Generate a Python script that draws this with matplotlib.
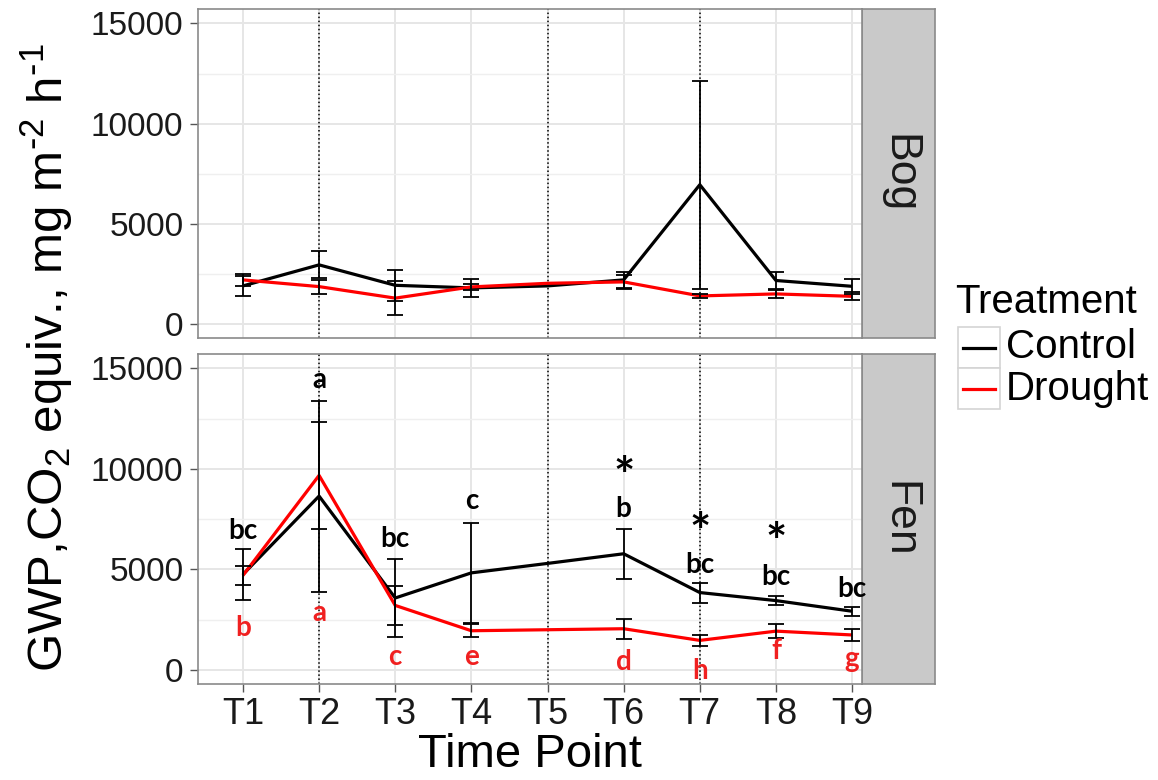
import numpy as np
import matplotlib
matplotlib.use("Agg")
import matplotlib.pyplot as plt
from matplotlib.lines import Line2D
from matplotlib.patches import Rectangle
from matplotlib.ticker import MultipleLocator

plt.rcParams['font.family'] = ['Liberation Sans', 'DejaVu Sans']
plt.rcParams['mathtext.default'] = 'regular'

# ---- data -------------------------------------------------------------
time_points = ['T1', 'T2', 'T3', 'T4', 'T5', 'T6', 'T7', 'T8', 'T9']
nan = np.nan

bog_control = [1900, 2950, 1930, 1800, 1900, 2200, 6950, 2170, 1880]
bog_control_se = [500, 680, 780, 450, nan, 380, 5180, 430, 360]
bog_drought = [2200, 1865, 1290, 1850, 2030, 2100, 1400, 1500, 1380]
bog_drought_se = [300, 350, 840, 150, nan, 350, 100, 200, 200]

fen_control = [4750, 8650, 3580, 4830, 5300, 5780, 3850, 3450, 2920]
fen_control_se = [1250, 4750, 1925, 2470, nan, 1250, 500, 235, 235]
fen_drought = [4700, 9680, 3210, 1950, 2000, 2050, 1470, 1930, 1740]
fen_drought_se = [450, 2670, 950, 320, nan, 500, 290, 335, 290]

# significance letters (Fen): text and baseline height in y units
control_letters = ['bc', 'a', 'bc', 'c', '', 'b', 'bc', 'bc', 'bc']
control_letter_y = [6520, 14020, 6100, 8000, nan, 7630, 4830, 4220, 3630]
drought_letters = ['b', 'a', 'c', 'e', '', 'd', 'h', 'f', 'g']
drought_letter_y = [1670, 2430, 250, 250, nan, 0, -450, 530, 170]
star_points = ['T6', 'T7', 'T8']
star_y = [9550, 6730, 6220]

sampling_marks = ['T2', 'T5', 'T7']

# ---- layout -----------------------------------------------------------
W, H = 1158, 780
fig = plt.figure(figsize=(W / 100, H / 100), dpi=100)
fig.patch.set_facecolor('white')


def px_axes(x0, y0, x1, y1):
    return fig.add_axes([x0 / W, 1 - y1 / H, (x1 - x0) / W, (y1 - y0) / H])


strip_bog = px_axes(862, 9, 935, 338)
strip_fen = px_axes(862, 354, 935, 684)
ax_bog = px_axes(198, 9, 862, 338)
ax_fen = px_axes(198, 354, 862, 684)
for a in (strip_bog, strip_fen):
    a.set_zorder(1)
for a in (ax_bog, ax_fen):
    a.set_zorder(2)

x = np.arange(1, len(time_points) + 1)
pos = {t: i + 1 for i, t in enumerate(time_points)}

panels = [
    (ax_bog, bog_control, bog_control_se, bog_drought, bog_drought_se),
    (ax_fen, fen_control, fen_control_se, fen_drought, fen_drought_se),
]

for ax, c, c_se, d, d_se in panels:
    ax.set_xlim(0.41, 9.13)
    ax.set_ylim(-700, 15720)
    ax.set_yticks([0, 5000, 10000, 15000])
    ax.yaxis.set_minor_locator(MultipleLocator(2500))
    ax.set_xticks(x)
    ax.set_xticklabels(time_points)
    ax.grid(which='major', color='#e6e6e6', lw=1.4)
    ax.grid(which='minor', axis='y', color='#efefef', lw=1.0)
    ax.set_axisbelow(True)
    ax.tick_params(which='minor', length=0)
    ax.tick_params(which='major', length=5.5, width=1.0, color='#555555',
                   labelcolor='#1a1a1a')
    ax.tick_params(axis='y', labelsize=24, pad=5)
    ax.tick_params(axis='x', labelsize=26, pad=4)
    for sp in ax.spines.values():
        sp.set_color('#8a8a8a')
        sp.set_linewidth(1.2)
    for t in sampling_marks:
        ax.axvline(pos[t], color='black', ls=':', lw=1.1, zorder=1.5)

    ax.plot(x, c, color='black', lw=2.3, zorder=3, solid_capstyle='butt')
    ax.plot(x, d, color='red', lw=2.3, zorder=3, solid_capstyle='butt')
    ax.errorbar(x, c, yerr=c_se, fmt='none', ecolor='black', elinewidth=1.3,
                capsize=6, capthick=1.3, zorder=4)
    ax.errorbar(x, d, yerr=d_se, fmt='none', ecolor='black', elinewidth=1.3,
                capsize=6, capthick=1.3, zorder=4)

ax_bog.tick_params(axis='x', length=0, labelbottom=False)

# letters and asterisks on the Fen panel
for xi, lab, yv in zip(x, control_letters, control_letter_y):
    if lab:
        ax_fen.text(xi, yv, lab, ha='center', va='baseline', fontsize=20,
                    fontweight='bold', family='Lato', color='black',
                    zorder=5, clip_on=False)
for xi, lab, yv in zip(x, drought_letters, drought_letter_y):
    if lab:
        ax_fen.text(xi, yv, lab, ha='center', va='baseline', fontsize=20,
                    fontweight='bold', family='Lato', color='#f02020',
                    zorder=5, clip_on=False)
for t, yv in zip(star_points, star_y):
    ax_fen.text(pos[t], yv, '*', ha='center', va='center', fontsize=36,
                fontweight='bold', family='Lato', color='black', zorder=5)

# facet strips
for sax, name in ((strip_bog, 'Bog'), (strip_fen, 'Fen')):
    sax.set_facecolor('#c9c9c9')
    sax.set_xticks([])
    sax.set_yticks([])
    for sp in sax.spines.values():
        sp.set_color('#8a8a8a')
        sp.set_linewidth(1.2)
    sax.text(0.5, 0.5, name, rotation=-90, ha='center', va='center',
             fontsize=32, color='#1a1a1a', transform=sax.transAxes)

# axis titles
fig.text(47 / W, 1 - 358 / H,
         r'GWP,CO$_2$ equiv., mg m$^{\text{-}2}$ h$^{\text{-}1}$',
         rotation=90, ha='center', va='center', fontsize=35.5, color='black')
fig.text(530 / W, 1 - 755 / H, 'Time Point', ha='center', va='center',
         fontsize=34, color='black')

# legend
fig.text(955 / W, 1 - 302 / H, 'Treatment', ha='left', va='center',
         fontsize=29, color='black')
for i, (lab, col) in enumerate((('Control', 'black'), ('Drought', 'red'))):
    top = 327 + i * 41
    fig.add_artist(Rectangle((958 / W, 1 - (top + 41) / H), 42 / W, 41 / H,
                             transform=fig.transFigure, facecolor='white',
                             edgecolor='#d4d4d4', lw=1.2))
    yc = 1 - (top + 20.5) / H
    fig.add_artist(Line2D([963 / W, 995 / W], [yc, yc], color=col, lw=2.3,
                          transform=fig.transFigure))
    fig.text(1006 / W, yc, lab, ha='left', va='center', fontsize=29,
             color='black')

fig.savefig('out.png', dpi=100, facecolor='white')
